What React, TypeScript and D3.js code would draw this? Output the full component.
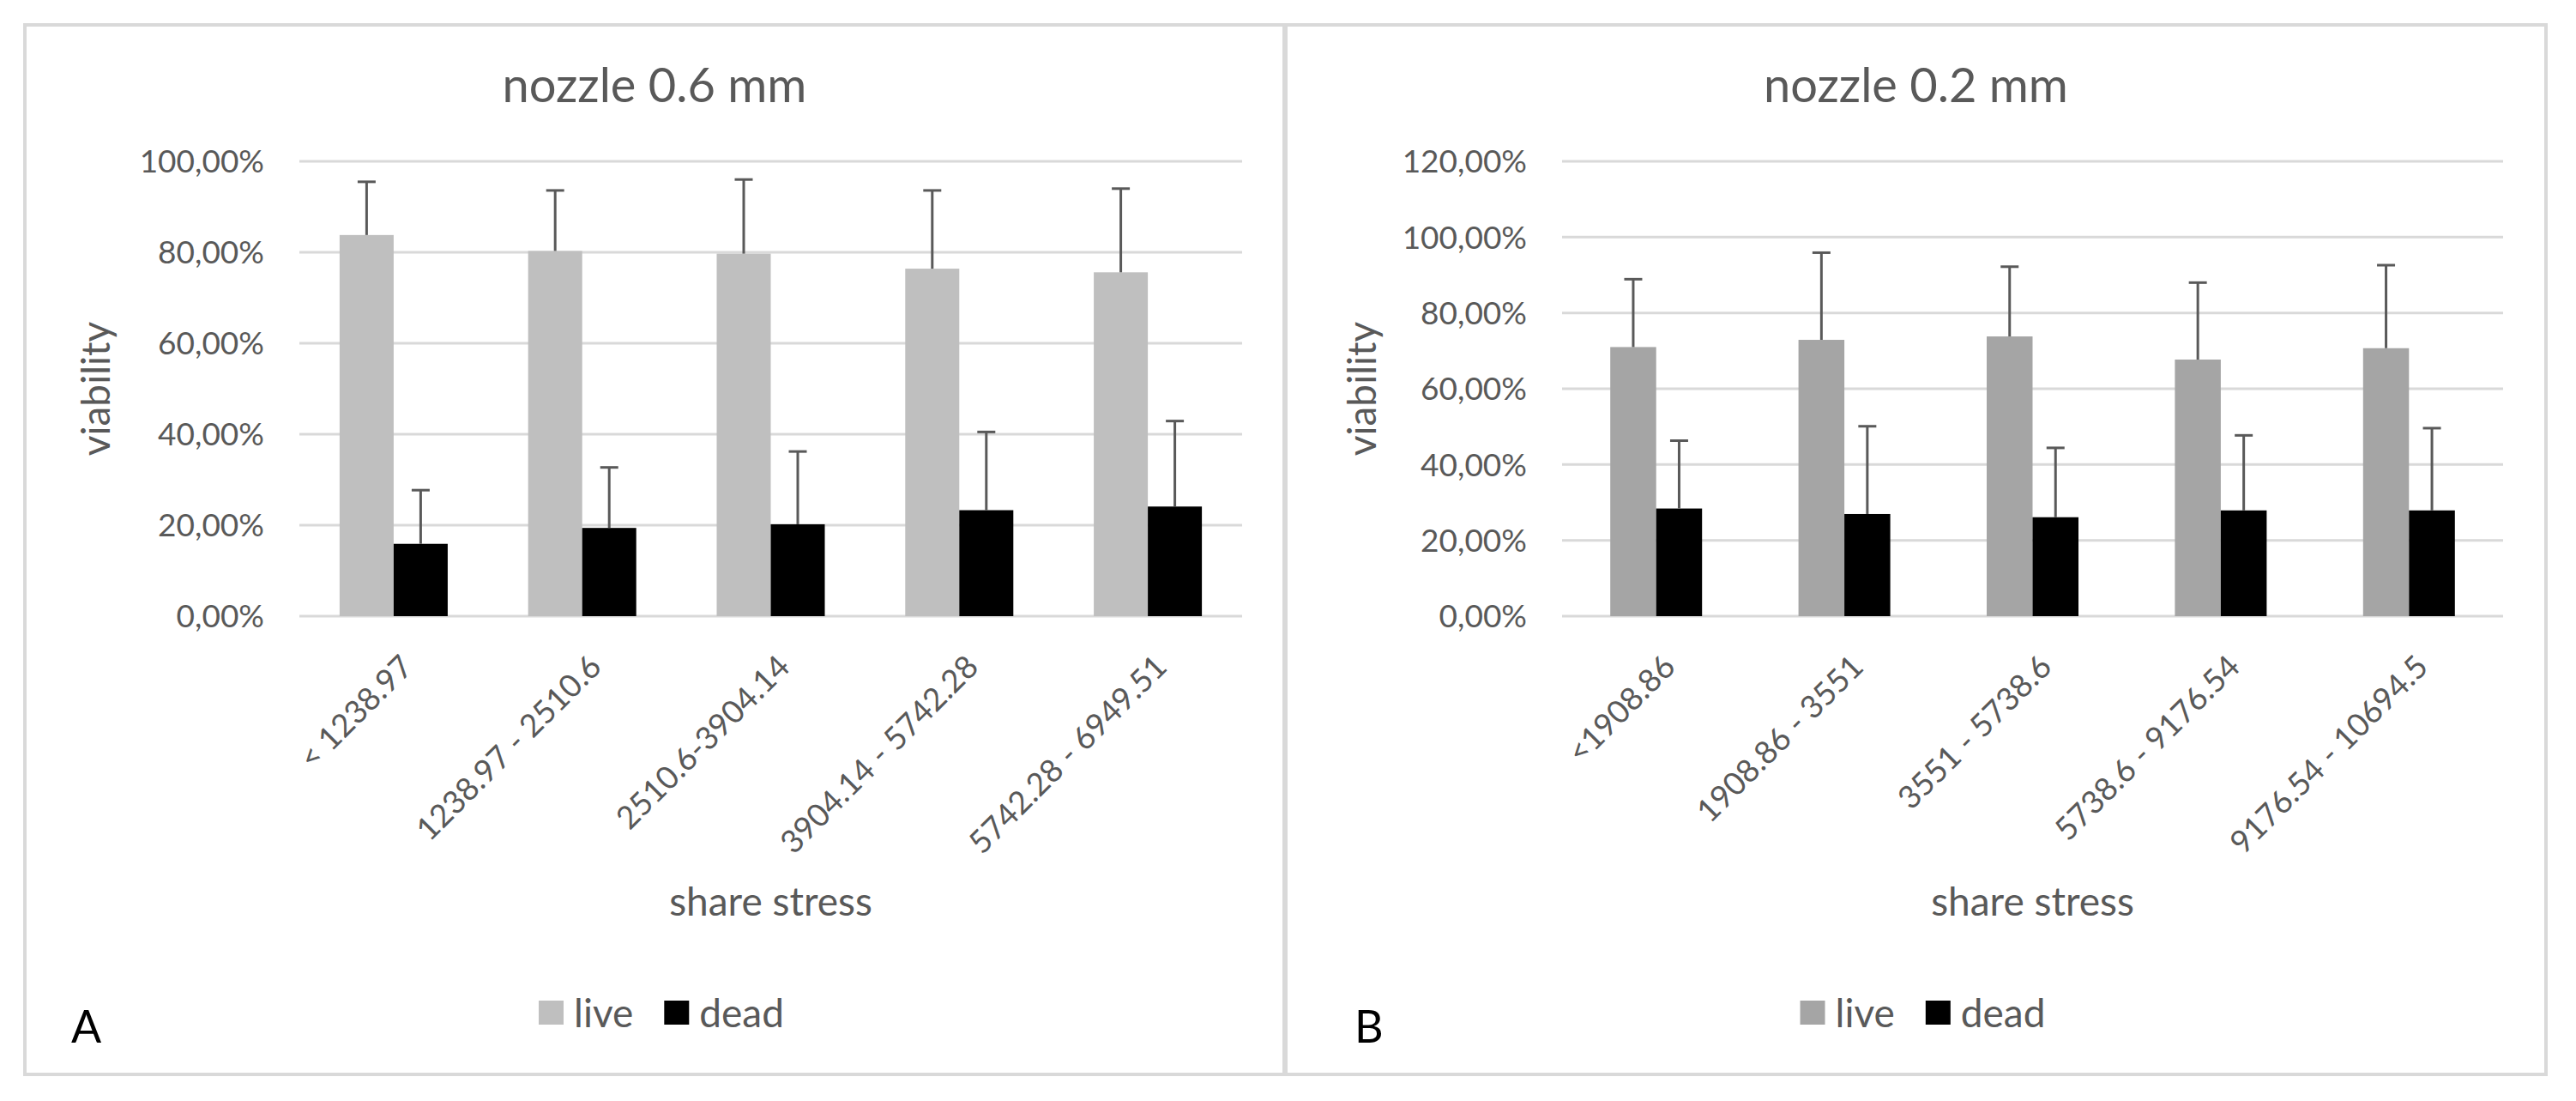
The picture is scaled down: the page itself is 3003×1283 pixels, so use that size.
import { useEffect, useRef } from "react";
import * as d3 from "d3";

// categories (share stress ranges)
const categoriesA = [
  "< 1238.97",
  "1238.97 - 2510.6",
  "2510.6-3904.14",
  "3904.14 - 5742.28",
  "5742.28 - 6949.51",
];
const categoriesB = [
  "<1908.86",
  "1908.86 - 3551",
  "3551 - 5738.6",
  "5738.6 - 9176.54",
  "9176.54 - 10694.5",
];

// viability in %
const liveA = [83.8, 80.3, 79.7, 76.4, 75.6];
const liveErrA = [11.7, 13.3, 16.3, 17.2, 18.4];
const deadA = [15.9, 19.4, 20.2, 23.3, 24.1];
const deadErrA = [11.8, 13.3, 16.0, 17.2, 18.8];

const liveB = [71.0, 72.9, 73.8, 67.7, 70.7];
const liveErrB = [17.9, 23.0, 18.4, 20.3, 21.9];
const deadB = [28.4, 26.95, 26.1, 27.9, 27.9];
const deadErrB = [17.9, 23.15, 18.3, 19.8, 21.7];

const yTicksA = [0, 20, 40, 60, 80, 100];
const yTicksB = [0, 20, 40, 60, 80, 100, 120];

const seriesNames = ["live", "dead"];

const FONT = "Lato, 'Open Sans', sans-serif";
const TEXT = "#595959";
const GRID = "#d9d9d9";

interface PanelSpec {
  title: string;
  letter: string;
  categories: string[];
  live: number[];
  liveErr: number[];
  dead: number[];
  deadErr: number[];
  yTicks: number[];
  liveColor: string;
  box: [number, number, number, number]; // left, top, right, bottom
  plotX: [number, number];
  gap: number;
  tickRight: number;
  yTitleX: number;
  letterX: number;
}

const panels: PanelSpec[] = [
  {
    title: "nozzle 0.6 mm",
    letter: "A",
    categories: categoriesA,
    live: liveA,
    liveErr: liveErrA,
    dead: deadA,
    deadErr: deadErrA,
    yTicks: yTicksA,
    liveColor: "#bfbfbf",
    box: [29, 29, 1497, 1252],
    plotX: [349, 1448],
    gap: 0.4267,
    tickRight: 308,
    yTitleX: 128,
    letterX: 83,
  },
  {
    title: "nozzle 0.2 mm",
    letter: "B",
    categories: categoriesB,
    live: liveB,
    liveErr: liveErrB,
    dead: deadB,
    deadErr: deadErrB,
    yTicks: yTicksB,
    liveColor: "#a5a5a5",
    box: [1499, 29, 2968, 1252],
    plotX: [1821, 2918],
    gap: 0.5123,
    tickRight: 1780,
    yTitleX: 1604,
    letterX: 1579,
  },
];

const fmtPct = (v: number) => d3.format(".2f")(v).replace(".", ",") + "%";

const App = () => {
  const svgRef = useRef<SVGSVGElement>(null);

  useEffect(() => {
    if (!svgRef.current) return;
    document.body.style.margin = "0";
    const svg = d3.select(svgRef.current);
    svg.selectAll("*").remove();

    svg
      .append("rect")
      .attr("width", 3003)
      .attr("height", 1283)
      .attr("fill", "#fff");

    const plotTop = 188;
    const plotBottom = 718;

    panels.forEach((p) => {
      const g = svg.append("g");
      const [bl, bt, br, bb] = p.box;
      const cx = (bl + br) / 2;

      // panel frame
      g.append("rect")
        .attr("x", bl)
        .attr("y", bt)
        .attr("width", br - bl)
        .attr("height", bb - bt)
        .attr("fill", "#fff")
        .attr("stroke", GRID)
        .attr("stroke-width", 4);

      const yMax = p.yTicks[p.yTicks.length - 1];
      const y = d3.scaleLinear().domain([0, yMax]).range([plotBottom, plotTop]);
      const x0 = d3
        .scaleBand<string>()
        .domain(p.categories)
        .range(p.plotX)
        .paddingInner(p.gap)
        .paddingOuter(p.gap / 2);
      const x1 = d3
        .scaleBand<string>()
        .domain(seriesNames)
        .range([0, x0.bandwidth()]);
      const color = d3
        .scaleOrdinal<string>()
        .domain(seriesNames)
        .range([p.liveColor, "#000000"]);

      // gridlines
      g.selectAll(".grid")
        .data(p.yTicks)
        .join("line")
        .attr("x1", p.plotX[0])
        .attr("x2", p.plotX[1])
        .attr("y1", (d) => y(d))
        .attr("y2", (d) => y(d))
        .attr("stroke", GRID)
        .attr("stroke-width", 3);

      // y tick labels
      g.selectAll(".ytick")
        .data(p.yTicks)
        .join("text")
        .attr("x", p.tickRight)
        .attr("y", (d) => y(d))
        .attr("dy", "0.36em")
        .attr("text-anchor", "end")
        .attr("font-family", FONT)
        .attr("font-size", 37)
        .attr("fill", TEXT)
        .text((d) => fmtPct(d));

      const rows = p.categories.map((c, i) => ({
        cat: c,
        values: [
          { key: "live", v: p.live[i], e: p.liveErr[i] },
          { key: "dead", v: p.dead[i], e: p.deadErr[i] },
        ],
      }));

      const groups = g
        .selectAll(".grp")
        .data(rows)
        .join("g")
        .attr("transform", (d) => `translate(${x0(d.cat)},0)`);

      groups
        .selectAll("rect")
        .data((d) => d.values)
        .join("rect")
        .attr("x", (d) => x1(d.key)!)
        .attr("width", x1.bandwidth())
        .attr("y", (d) => y(d.v))
        .attr("height", (d) => y(0) - y(d.v))
        .attr("fill", (d) => color(d.key));

      // error bars (plus direction only)
      const errs = groups
        .selectAll(".err")
        .data((d) => d.values)
        .join("g")
        .attr("transform", (d) => `translate(${x1(d.key)! + x1.bandwidth() / 2},0)`);
      errs
        .append("line")
        .attr("y1", (d) => y(d.v))
        .attr("y2", (d) => y(d.v + d.e))
        .attr("stroke", TEXT)
        .attr("stroke-width", 3);
      errs
        .append("line")
        .attr("x1", -10.5)
        .attr("x2", 10.5)
        .attr("y1", (d) => y(d.v + d.e))
        .attr("y2", (d) => y(d.v + d.e))
        .attr("stroke", TEXT)
        .attr("stroke-width", 3);

      // x tick labels, rotated
      g.selectAll(".xtick")
        .data(p.categories)
        .join("text")
        .attr(
          "transform",
          (d) => `translate(${x0(d)! + x0.bandwidth() / 2 + 15},770) rotate(-45)`
        )
        .attr("dy", "0.36em")
        .attr("text-anchor", "end")
        .attr("font-family", FONT)
        .attr("font-size", 37)
        .attr("fill", TEXT)
        .text((d) => d);

      // titles
      g.append("text")
        .attr("x", cx)
        .attr("y", 119)
        .attr("text-anchor", "middle")
        .attr("font-family", FONT)
        .attr("font-size", 56)
        .attr("fill", TEXT)
        .text(p.title);

      g.append("text")
        .attr("x", (p.plotX[0] + p.plotX[1]) / 2)
        .attr("y", 1067)
        .attr("text-anchor", "middle")
        .attr("font-family", FONT)
        .attr("font-size", 46)
        .attr("fill", TEXT)
        .text("share stress");

      g.append("text")
        .attr("transform", `translate(${p.yTitleX},${(plotTop + plotBottom) / 2}) rotate(-90)`)
        .attr("text-anchor", "middle")
        .attr("font-family", FONT)
        .attr("font-size", 46)
        .attr("fill", TEXT)
        .text("viability");

      g.append("text")
        .attr("x", p.letterX)
        .attr("y", 1215)
        .attr("font-family", FONT)
        .attr("font-size", 52)
        .attr("fill", "#000")
        .text(p.letter);

      // legend
      const leg = g.append("g");
      let lx = 0;
      seriesNames.forEach((s, i) => {
        leg
          .append("rect")
          .attr("x", lx)
          .attr("y", 1166)
          .attr("width", 29)
          .attr("height", 28)
          .attr("fill", color(s));
        const t = leg
          .append("text")
          .attr("x", lx + 41)
          .attr("y", 1197)
          .attr("font-family", FONT)
          .attr("font-size", 46)
          .attr("fill", TEXT)
          .text(s);
        const w = (t.node() as SVGTextElement).getComputedTextLength();
        lx += 41 + w + (i < seriesNames.length - 1 ? 36 : 0);
      });
      leg.attr("transform", `translate(${cx + 8 - lx / 2},0)`);
    });
  }, []);

  return <svg ref={svgRef} width={3003} height={1283} style={{ display: "block" }} />;
};

export default App;
